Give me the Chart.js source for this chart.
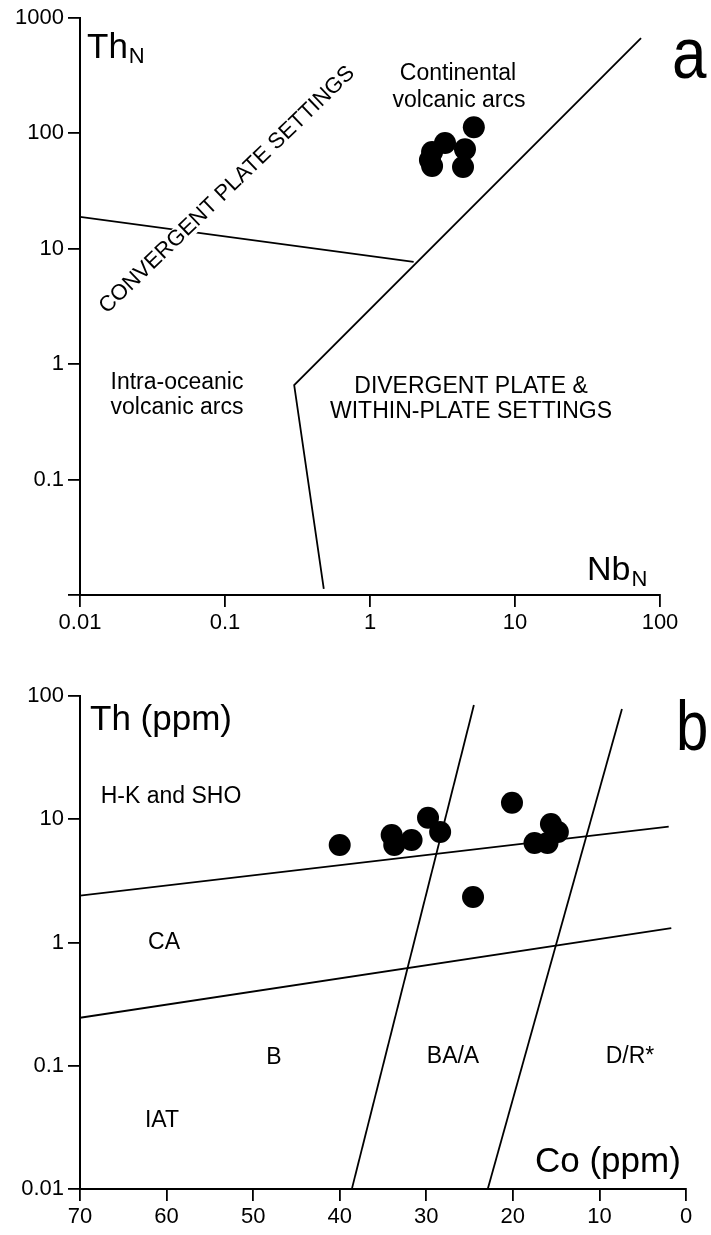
<!DOCTYPE html>
<html>
<head>
<meta charset="utf-8">
<title>Th-Nb and Th-Co diagrams</title>
<script src="https://cdn.jsdelivr.net/npm/chart.js@4"></script>
<style>
body{margin:0;background:#fff}
canvas{position:absolute;left:0}
#chart-a{top:0}
#chart-b{top:650px}
</style>
</head>
<body>
<canvas id="chart-a" width="711" height="650"></canvas>
<canvas id="chart-b" width="711" height="585"></canvas>
<script>
// (a) ThN vs NbN, samples and field boundaries
const A_NB = [5.2, 3.29, 4.52, 2.68, 2.59, 2.68, 4.38];
const A_TH = [113, 82.6, 73, 69, 58.9, 52.2, 51.2];
const A_DIV_NB = [0.48, 0.3, 74];
const A_DIV_TH = [0.0113, 0.66, 670];
const A_ARC_NB = [0.01, 2.0];
const A_ARC_TH = [18.9, 7.7];
const A_XTICKS = [0.01, 0.1, 1, 10, 100];
const A_XLABELS = ['0.01', '0.1', '1', '10', '100'];
const A_YTICKS = [0.01, 0.1, 1, 10, 100, 1000];
const A_YLABELS = ['', '0.1', '1', '10', '100', '1000'];

// (b) Th vs Co, samples and field boundaries
const B_CO = [40.0, 34.0, 33.7, 31.7, 29.8, 28.4, 24.6, 20.1, 15.6, 14.8, 17.5, 16.0];
const B_TH = [6.19, 7.46, 6.19, 6.79, 10.3, 7.89, 2.34, 13.6, 9.16, 7.89, 6.42, 6.42];
const B_HK_CO = [70, 2];
const B_HK_TH = [2.4, 8.7];
const B_CA_CO = [70, 1.7];
const B_CA_TH = [0.245, 1.31];
const B_BA_CO = [38.6, 24.5];
const B_BA_TH = [0.01, 84.5];
const B_DR_CO = [22.9, 7.4];
const B_DR_TH = [0.01, 78.5];
const B_XTICKS = [0, 10, 20, 30, 40, 50, 60, 70];
const B_YTICKS = [0.01, 0.1, 1, 10, 100];
const B_YLABELS = ['0.01', '0.1', '1', '10', '100'];

const FONT = '"Liberation Sans", Arial, Helvetica, sans-serif';
Chart.defaults.font.family = FONT;
Chart.defaults.color = '#000';

function pts(xs, ys){ return xs.map((x, i) => ({x: x, y: ys[i]})); }

function dots(xs, ys){
  return {data: pts(xs, ys), showLine: false, pointRadius: 11, pointHoverRadius: 11,
    pointBackgroundColor: '#000', pointBorderWidth: 0};
}
function edge(xs, ys){
  return {data: pts(xs, ys), showLine: true, pointRadius: 0, borderColor: '#000', borderWidth: 1.8, fill: false};
}

function axis(o){
  return Object.assign({
    grid: {drawOnChartArea: false, drawTicks: true, tickLength: 12, color: '#000', lineWidth: 1.8},
    border: {display: true, color: '#000', width: 2}
  }, o);
}

// text labels drawn on top of the plot
function textLayer(items){
  return {
    id: 'texts',
    afterDraw(chart){
      const ctx = chart.ctx;
      items.forEach(t => {
        ctx.save();
        ctx.fillStyle = '#000';
        ctx.font = t.size + 'px ' + FONT;
        ctx.translate(t.x, t.y);
        if(t.rot) ctx.rotate(t.rot * Math.PI / 180);
        if(t.sx) ctx.scale(t.sx, 1);
        ctx.textAlign = t.align || 'center';
        ctx.textBaseline = t.base || 'middle';
        if(t.bg){
          const w = ctx.measureText(t.text).width;
          ctx.fillStyle = '#fff';
          ctx.fillRect(-w/2 - 3, -t.size*0.45, w + 6, t.size*0.9);
          ctx.fillStyle = '#000';
        }
        ctx.fillText(t.text, 0, 0);
        if(t.sub){
          const w = ctx.measureText(t.text).width;
          ctx.font = t.subSize + 'px ' + FONT;
          ctx.fillText(t.sub, w + 1, t.subDy);
        }
        ctx.restore();
      });
    }
  };
}

const A_TEXTS = [
  {text: 'Th', sub: 'N', subSize: 22, subDy: 5, x: 87, y: 58, size: 35, align: 'left', base: 'alphabetic'},
  {text: 'CONVERGENT PLATE SETTINGS', x: 227, y: 190, size: 22, rot: -44, bg: true},
  {text: 'Continental', x: 458, y: 74, size: 23},
  {text: 'volcanic arcs', x: 459, y: 101, size: 23},
  {text: 'a', x: 672, y: 78, size: 72, sx: 0.86, align: 'left', base: 'alphabetic'},
  {text: 'Intra-oceanic', x: 177, y: 383, size: 23},
  {text: 'volcanic arcs', x: 177, y: 408, size: 23},
  {text: 'DIVERGENT PLATE &', x: 471, y: 387, size: 23},
  {text: 'WITHIN-PLATE SETTINGS', x: 471, y: 412, size: 23},
  {text: 'Nb', sub: 'N', subSize: 22, subDy: 6, x: 587, y: 580, size: 34, align: 'left', base: 'alphabetic'}
];

const B_TEXTS = [
  {text: 'Th (ppm)', x: 90, y: 80, size: 35, align: 'left', base: 'alphabetic'},
  {text: 'b', x: 676, y: 100, size: 70, sx: 0.83, align: 'left', base: 'alphabetic'},
  {text: 'H-K and SHO', x: 171, y: 147, size: 23},
  {text: 'CA', x: 164, y: 293, size: 23},
  {text: 'B', x: 274, y: 408, size: 23},
  {text: 'IAT', x: 162, y: 471, size: 23},
  {text: 'BA/A', x: 453, y: 407, size: 23},
  {text: 'D/R*', x: 630, y: 407, size: 23},
  {text: 'Co (ppm)', x: 535, y: 522, size: 35, align: 'left', base: 'alphabetic'}
];

const common = {
  responsive: false,
  animation: false,
  plugins: {legend: {display: false}, tooltip: {enabled: false}}
};

new Chart(document.getElementById('chart-a'), {
  type: 'scatter',
  data: {datasets: [
    edge(A_DIV_NB, A_DIV_TH),
    edge(A_ARC_NB, A_ARC_TH),
    dots(A_NB, A_TH)
  ]},
  options: Object.assign({}, common, {
    layout: {padding: {top: 18, right: 51, left: 0, bottom: 0}},
    scales: {
      x: axis({type: 'logarithmic', min: 0.01, max: 100,
        afterBuildTicks: s => { s.ticks = A_XTICKS.map(v => ({value: v})); },
        afterFit: s => { s.height = 55; },
        ticks: {callback: (v, i) => A_XLABELS[i], font: {size: 22}, padding: 3, autoSkip: false, maxRotation: 0}
      }),
      y: axis({type: 'logarithmic', min: 0.01, max: 1000,
        afterBuildTicks: s => { s.ticks = A_YTICKS.map(v => ({value: v})); },
        afterFit: s => { s.width = 80; },
        ticks: {callback: (v, i) => A_YLABELS[i], font: {size: 22}, padding: 4, autoSkip: false}
      })
    }
  }),
  plugins: [textLayer(A_TEXTS)]
});

new Chart(document.getElementById('chart-b'), {
  type: 'scatter',
  data: {datasets: [
    edge(B_HK_CO, B_HK_TH),
    edge(B_CA_CO, B_CA_TH),
    edge(B_BA_CO, B_BA_TH),
    edge(B_DR_CO, B_DR_TH),
    dots(B_CO, B_TH)
  ]},
  options: Object.assign({}, common, {
    layout: {padding: {top: 46, right: 25, left: 0, bottom: 0}},
    scales: {
      x: axis({type: 'linear', min: 0, max: 70, reverse: true,
        afterBuildTicks: s => { s.ticks = B_XTICKS.map(v => ({value: v})); },
        afterFit: s => { s.height = 46; },
        ticks: {font: {size: 22}, padding: 3, autoSkip: false, maxRotation: 0}
      }),
      y: axis({type: 'logarithmic', min: 0.01, max: 100,
        afterBuildTicks: s => { s.ticks = B_YTICKS.map(v => ({value: v})); },
        afterFit: s => { s.width = 80; },
        ticks: {callback: (v, i) => B_YLABELS[i], font: {size: 22}, padding: 4, autoSkip: false}
      })
    }
  }),
  plugins: [textLayer(B_TEXTS)]
});
</script>
</body>
</html>
